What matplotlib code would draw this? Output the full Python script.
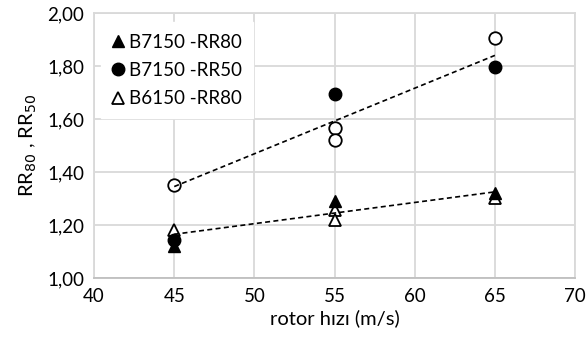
import matplotlib.pyplot as plt
import numpy as np

plt.rcParams['font.family'] = ['Lato', 'DejaVu Sans']

# values
x_b7150_rr80 = [45, 55, 65]
y_b7150_rr80 = [1.12, 1.29, 1.32]
x_b7150_rr50 = [45, 55, 65]
y_b7150_rr50 = [1.145, 1.695, 1.795]
x_b6150_rr80 = [45, 55, 55, 65]
y_b6150_rr80 = [1.18, 1.255, 1.22, 1.30]
x_b6150_rr50 = [45, 55, 55, 65]
y_b6150_rr50 = [1.35, 1.565, 1.52, 1.905]

# dashed trend lines (end points)
trend_up_x = [45, 65]
trend_up_y = [1.345, 1.84]
trend_lo_x = [45, 65]
trend_lo_y = [1.165, 1.325]

grid_c = '#d9d9d9'

fig, ax = plt.subplots(figsize=(5.88, 3.51), dpi=100)
fig.subplots_adjust(left=0.16, right=0.978, top=0.963, bottom=0.208)

ax.plot(x_b6150_rr80, y_b6150_rr80, '^', ms=8, mfc='white', mec='black', mew=1.3,
        ls='none', label='B6150 -RR80', zorder=3)
ax.plot(x_b7150_rr80, y_b7150_rr80, '^', ms=8, color='black', ls='none',
        label='B7150 -RR80', zorder=4)
ax.plot(x_b6150_rr50, y_b6150_rr50, 'o', ms=9, mfc='white', mec='black', mew=1.3,
        ls='none', zorder=3)
ax.plot(x_b7150_rr50, y_b7150_rr50, 'o', ms=9, color='black', ls='none',
        label='B7150 -RR50', zorder=5)

ax.plot(trend_up_x, trend_up_y, '--', color='black', lw=1.2, dashes=(3, 2), zorder=6)
ax.plot(trend_lo_x, trend_lo_y, '--', color='black', lw=1.2, dashes=(3, 2), zorder=6)

ax.set_xlim(40, 70)
ax.set_ylim(1.0, 2.0)
ax.set_xticks(np.arange(40, 71, 5))
ax.set_yticks(np.arange(1.0, 2.01, 0.2))
ax.set_yticklabels([f'{v:.2f}'.replace('.', ',') for v in np.arange(1.0, 2.01, 0.2)])
ax.tick_params(length=0, labelsize=13.5, pad=7)
ax.grid(True, color=grid_c, lw=1.3)
ax.set_axisbelow(True)
for s in ax.spines.values():
    s.set_color(grid_c)
    s.set_linewidth(1.3)
ax.spines['bottom'].set_color('#bfbfbf')

ax.set_xlabel('rotor hızı (m/s)', fontsize=14.5, labelpad=3)
ax.set_ylabel('RR$_{80}$ , RR$_{50}$', fontsize=14.5, labelpad=6)

h, l = ax.get_legend_handles_labels()
order = [1, 2, 0]
leg = ax.legend([h[i] for i in order], [l[i] for i in order], loc='upper left',
                bbox_to_anchor=(-0.005, 1.0), frameon=True, fontsize=13.5,
                handlelength=0.6, handletextpad=0.3, labelspacing=0.6,
                borderpad=0.6)
leg.get_frame().set_edgecolor('white')
leg.get_frame().set_facecolor('white')
leg.get_frame().set_alpha(1)
leg.get_frame().set_boxstyle('square', pad=0)

fig.savefig('out.png')
